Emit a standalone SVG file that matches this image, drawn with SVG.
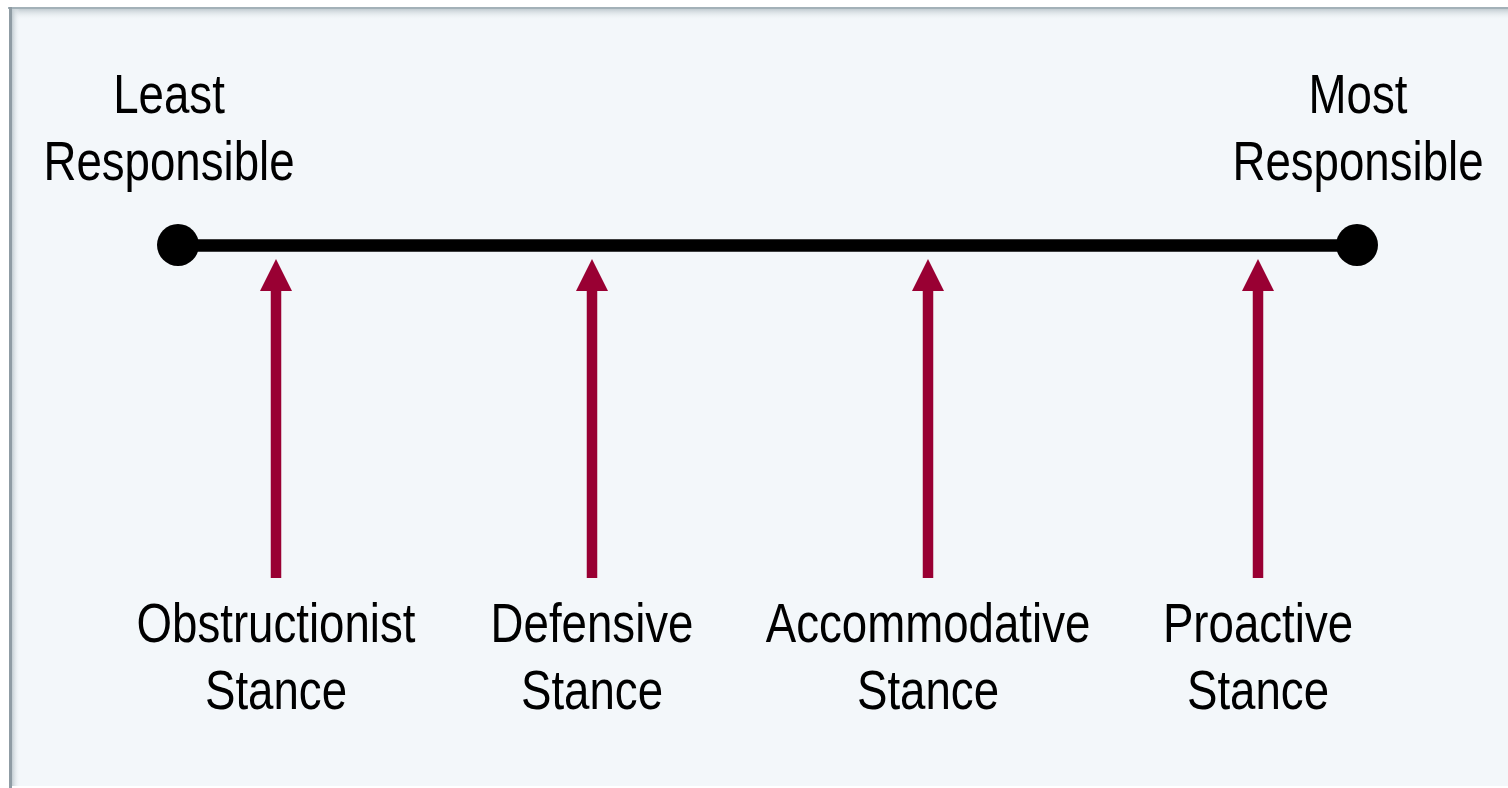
<svg xmlns="http://www.w3.org/2000/svg" width="1508" height="788" viewBox="0 0 1508 788">
<defs>
<style>
.lbl{font-family:"Liberation Sans",Arial,sans-serif;font-size:56px;fill:#000;text-anchor:middle}
.shaft{stroke:#990033;stroke-width:10.5;fill:none}
</style>
<marker id="ah" markerUnits="userSpaceOnUse" markerWidth="32" markerHeight="32" viewBox="0 0 32 32" refX="0" refY="16" orient="auto">
<path d="M0,0 L32,16 L0,32 Z" fill="#990033"/>
</marker>
<linearGradient id="gt" x1="0" y1="0" x2="0" y2="1">
<stop offset="0" stop-color="#c2ccd1"/>
<stop offset="1" stop-color="#f3f7fa" stop-opacity="0"/>
</linearGradient>
<linearGradient id="gl" x1="0" y1="0" x2="1" y2="0">
<stop offset="0" stop-color="#c2ccd1"/>
<stop offset="1" stop-color="#f3f7fa" stop-opacity="0"/>
</linearGradient>
</defs>
<rect x="0" y="0" width="1508" height="788" fill="#ffffff"/>
<g id="frame">
<rect x="10" y="8" width="1500" height="778" fill="#f3f7fa"/>
<rect x="12" y="9" width="1498" height="11" fill="url(#gt)"/>
<rect x="12" y="9" width="8" height="777" fill="url(#gl)"/>
<line x1="8" y1="8" x2="1508" y2="8" stroke="#a3b1b8" stroke-width="2"/>
<line x1="10.5" y1="7" x2="10.5" y2="788" stroke="#8f9ca4" stroke-width="3"/>
</g>
<g id="scale">
<line x1="178" y1="245.5" x2="1357" y2="245.5" stroke="#000" stroke-width="12.5"/>
<circle cx="178" cy="245" r="21" fill="#000"/>
<circle cx="1357" cy="245" r="21" fill="#000"/>
</g>
<g id="least" transform="translate(169,0) scale(0.815,1)">
<text class="lbl" x="0" y="113">Least</text>
<text class="lbl" x="0" y="180">Responsible</text>
</g>
<g id="most" transform="translate(1358,0) scale(0.815,1)">
<text class="lbl" x="0" y="113">Most</text>
<text class="lbl" x="0" y="180">Responsible</text>
</g>
<g id="connectors">
<line class="shaft" x1="276" y1="578" x2="276" y2="291" marker-end="url(#ah)"/>
<line class="shaft" x1="592" y1="578" x2="592" y2="291" marker-end="url(#ah)"/>
<line class="shaft" x1="928" y1="578" x2="928" y2="291" marker-end="url(#ah)"/>
<line class="shaft" x1="1258" y1="578" x2="1258" y2="291" marker-end="url(#ah)"/>
</g>
<g id="obstructionist" transform="translate(276,0) scale(0.815,1)">
<text class="lbl" x="0" y="642">Obstructionist</text>
<text class="lbl" x="0" y="709">Stance</text>
</g>
<g id="defensive" transform="translate(592,0) scale(0.815,1)">
<text class="lbl" x="0" y="642">Defensive</text>
<text class="lbl" x="0" y="709">Stance</text>
</g>
<g id="accommodative" transform="translate(928,0) scale(0.815,1)">
<text class="lbl" x="0" y="642">Accommodative</text>
<text class="lbl" x="0" y="709">Stance</text>
</g>
<g id="proactive" transform="translate(1258,0) scale(0.815,1)">
<text class="lbl" x="0" y="642">Proactive</text>
<text class="lbl" x="0" y="709">Stance</text>
</g>
</svg>
